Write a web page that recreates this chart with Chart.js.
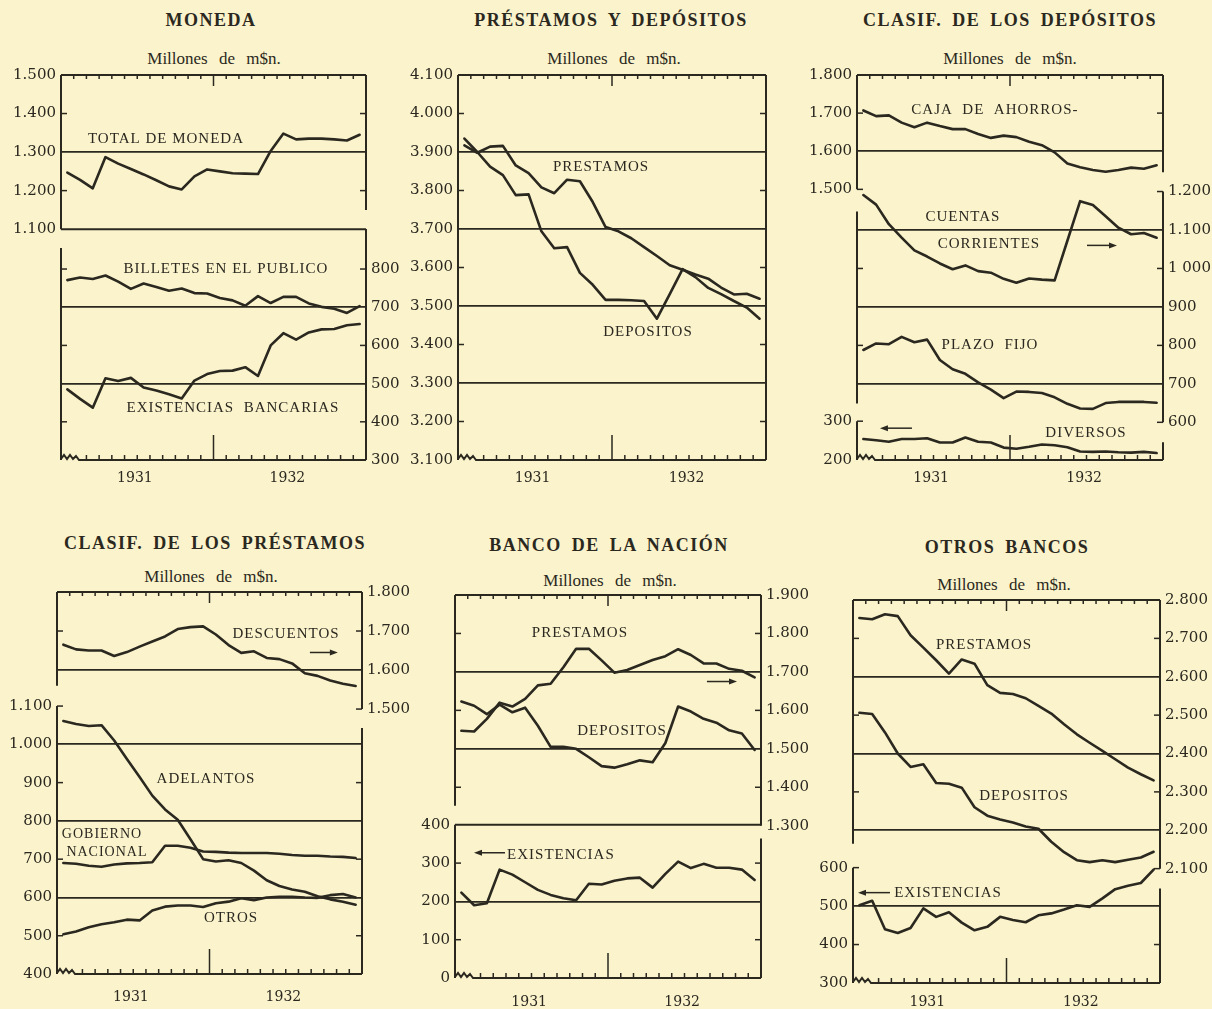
<!DOCTYPE html>
<html lang="es">
<head>
<meta charset="utf-8">
<title>Moneda, préstamos y depósitos 1931-1932</title>
<script src="https://cdn.jsdelivr.net/npm/chart.js@4.4.1/dist/chart.umd.min.js"></script>
<style>
  html, body { margin: 0; padding: 0; }
  body { width: 1212px; height: 1009px; background: #faf3cc; position: relative; overflow: hidden; }
  .title, .sub { position: absolute; transform: translate(-50%, -50%); white-space: nowrap; color: #2b2820; }
  .title { font: bold 18px "Liberation Serif", serif; letter-spacing: 1.5px; word-spacing: 4px; }
  .sub { font: 17px "Liberation Serif", serif; word-spacing: 7px; }
  canvas { position: absolute; }
</style>
</head>
<body>
<div class="title" style="left:211px;top:20px">MONEDA</div>
<div class="title" style="left:611px;top:20px">PRÉSTAMOS Y DEPÓSITOS</div>
<div class="title" style="left:1010px;top:20px">CLASIF. DE LOS DEPÓSITOS</div>
<div class="title" style="left:215px;top:543px">CLASIF. DE LOS PRÉSTAMOS</div>
<div class="title" style="left:609px;top:545px">BANCO DE LA NACIÓN</div>
<div class="title" style="left:1007px;top:547px">OTROS BANCOS</div>
<div class="sub" style="left:214px;top:59px">Millones de m$n.</div>
<div class="sub" style="left:614px;top:59px">Millones de m$n.</div>
<div class="sub" style="left:1010px;top:59px">Millones de m$n.</div>
<div class="sub" style="left:211px;top:577px">Millones de m$n.</div>
<div class="sub" style="left:610px;top:581px">Millones de m$n.</div>
<div class="sub" style="left:1004px;top:585px">Millones de m$n.</div>

<canvas id="moneda"></canvas>
<canvas id="pyd"></canvas>
<canvas id="clasdep"></canvas>
<canvas id="claspre"></canvas>
<canvas id="nacion"></canvas>
<canvas id="otros"></canvas>

<script>
const INK = '#2b2820';

// months, Jan 1931 .. Dec 1932
const MONTHS = ['Ene 1931', 'Feb 1931', 'Mar 1931', 'Abr 1931', 'May 1931', 'Jun 1931',
  'Jul 1931', 'Ago 1931', 'Sep 1931', 'Oct 1931', 'Nov 1931', 'Dic 1931',
  'Ene 1932', 'Feb 1932', 'Mar 1932', 'Abr 1932', 'May 1932', 'Jun 1932',
  'Jul 1932', 'Ago 1932', 'Sep 1932', 'Oct 1932', 'Nov 1932', 'Dic 1932'];
const YEAR_LABELS = ['1931', '1932'];

// Moneda
const TOTAL_MONEDA = [1247, 1228, 1206, 1287, 1270, 1256, 1242, 1227, 1211, 1203, 1237, 1255,
  1250, 1245, 1244, 1243, 1303, 1348, 1333, 1335, 1335, 1333, 1330, 1345];
const BILLETES_PUBLICO = [771, 778, 774, 783, 767, 748, 762, 753, 743, 749, 737, 736,
  724, 718, 704, 729, 711, 727, 727, 710, 701, 696, 685, 703];
const EXISTENCIAS_BANCARIAS = [485, 460, 437, 514, 507, 515, 490, 482, 472, 461, 508, 525,
  533, 534, 543, 520, 600, 632, 615, 634, 642, 643, 653, 656];

// Prestamos y depositos
const PRESTAMOS_TOTAL = [3917, 3898, 3914, 3916, 3865, 3845, 3808, 3793, 3828, 3824, 3770, 3705,
  3694, 3676, 3653, 3630, 3606, 3594, 3582, 3571, 3548, 3530, 3532, 3519];
const DEPOSITOS_TOTAL = [3935, 3900, 3862, 3840, 3788, 3790, 3694, 3650, 3653, 3586, 3555, 3516,
  3516, 3515, 3513, 3467, 3531, 3596, 3575, 3547, 3531, 3513, 3496, 3467];

// Clasificacion de los depositos
const CAJA_AHORROS = [1707, 1692, 1694, 1675, 1663, 1675, 1666, 1658, 1658, 1645, 1635, 1641,
  1637, 1625, 1616, 1597, 1568, 1558, 1551, 1546, 1551, 1557, 1554, 1563];
const CUENTAS_CORRIENTES = [1191, 1166, 1115, 1080, 1047, 1031, 1013, 998, 1008, 993, 989, 973,
  963, 974, 971, 969, 1072, 1175, 1165, 1136, 1106, 1089, 1092, 1080];
const PLAZO_FIJO = [788, 805, 803, 822, 808, 815, 762, 738, 726, 704, 685, 663,
  680, 679, 676, 665, 648, 636, 635, 650, 653, 653, 653, 651];
const DIVERSOS = [254, 251, 247, 254, 254, 256, 245, 245, 258, 247, 245, 232,
  229, 234, 240, 238, 233, 222, 221, 222, 220, 219, 221, 218];

// Clasificacion de los prestamos
const DESCUENTOS = [1665, 1653, 1650, 1650, 1636, 1646, 1660, 1673, 1686, 1705, 1710, 1712,
  1691, 1664, 1644, 1648, 1631, 1628, 1617, 1592, 1585, 1573, 1565, 1559];
const ADELANTOS = [1061, 1053, 1048, 1050, 1010, 962, 915, 866, 830, 803, 752, 700,
  694, 697, 690, 670, 645, 630, 621, 615, 603, 595, 589, 581];
const GOBIERNO_NACIONAL = [690, 688, 683, 680, 686, 689, 690, 692, 735, 735, 730, 720,
  719, 717, 716, 716, 716, 714, 711, 709, 709, 707, 706, 703];
const OTROS_PRESTAMOS = [504, 511, 522, 530, 535, 542, 540, 566, 576, 579, 579, 575,
  585, 589, 598, 593, 600, 602, 602, 600, 599, 606, 609, 600];

// Banco de la Nacion
const NACION_PRESTAMOS = [1547, 1545, 1578, 1620, 1610, 1630, 1665, 1669, 1712, 1760, 1760, 1730,
  1698, 1705, 1718, 1731, 1741, 1759, 1744, 1722, 1722, 1708, 1703, 1686];
const NACION_DEPOSITOS = [1623, 1612, 1590, 1615, 1595, 1607, 1560, 1505, 1505, 1500, 1478, 1455,
  1451, 1460, 1470, 1465, 1515, 1610, 1597, 1578, 1568, 1548, 1540, 1497];
const NACION_EXISTENCIAS = [223, 190, 195, 283, 270, 250, 230, 217, 208, 203, 246, 244,
  254, 260, 262, 236, 272, 304, 287, 298, 288, 288, 283, 256];

// Otros bancos
const OB_PRESTAMOS = [2753, 2750, 2763, 2758, 2708, 2676, 2643, 2608, 2645, 2634, 2578, 2558,
  2555, 2544, 2524, 2504, 2476, 2450, 2428, 2407, 2385, 2363, 2346, 2330];
const OB_DEPOSITOS = [2506, 2503, 2455, 2400, 2365, 2372, 2323, 2321, 2311, 2260, 2238, 2228,
  2220, 2210, 2204, 2170, 2143, 2122, 2117, 2122, 2117, 2123, 2129, 2144];
const OB_EXISTENCIAS = [502, 514, 440, 430, 443, 494, 472, 484, 457, 437, 446, 472,
  464, 458, 476, 481, 491, 502, 498, 520, 544, 553, 560, 595];

// tick labels
const MONEDA_TICKS_L = ['1.100', '1.200', '1.300', '1.400', '1.500'];
const MONEDA_TICKS_R = ['300', '400', '500', '600', '700', '800'];
const PYD_TICKS = ['3.100', '3.200', '3.300', '3.400', '3.500', '3.600', '3.700', '3.800', '3.900', '4.000', '4.100'];
const CLASDEP_TICKS_L = ['1.500', '1.600', '1.700', '1.800'];
const CLASDEP_TICKS_R = ['600', '700', '800', '900', '1 000', '1.100', '1.200'];
const CLASDEP_TICKS_B = ['200', '300'];
const CLASPRE_TICKS_R = ['1.500', '1.600', '1.700', '1.800'];
const CLASPRE_TICKS_L = ['400', '500', '600', '700', '800', '900', '1.000', '1.100'];
const NACION_TICKS_R = ['1.300', '1.400', '1.500', '1.600', '1.700', '1.800', '1.900'];
const NACION_TICKS_L = ['0', '100', '200', '300', '400'];
const OB_TICKS_R = ['2.100', '2.200', '2.300', '2.400', '2.500', '2.600', '2.700', '2.800'];
const OB_TICKS_L = ['300', '400', '500', '600'];

const toVal = s => Number(s.replace(/[.\s]/g, ''));

// layout: plot area [left, right, top, bottom] in page pixels
const LW = 58, RW = 52, PT = 12, XH = 36;

const PANELS = [
  { id: 'moneda', area: [61, 366, 73, 460], xPad: 2,
    axes: {
      yL: { pos: 'left', min: 501, max: 1500, ticks: MONEDA_TICKS_L, grid: [1300] },
      yR: { pos: 'right', min: 300, max: 1308, ticks: MONEDA_TICKS_R, grid: [700, 500] } },
    series: [[TOTAL_MONEDA, 'yL'], [BILLETES_PUBLICO, 'yR'], [EXISTENCIAS_BANCARIAS, 'yR']],
    frames: [['h', 'yL', 1500, 0, 24], ['v', 'yL', 0, 1500, 1100], ['v', 'yL', 24, 1500, 1150],
      ['h', 'yL', 1100, 0, 24], ['v', 'yR', 0, 855, 300], ['v', 'yR', 24, 905, 300]],
    marks: [['yL', 1400, 'LR'], ['yL', 1200, 'LR'], ['yR', 800, 'LR'], ['yR', 600, 'LR'], ['yR', 400, 'LR']],
    labels: [['TOTAL DE MONEDA', 'yL', 8.26, 1335, 15], ['BILLETES EN EL PUBLICO', 'yR', 12.98, 800, 15],
      ['EXISTENCIAS  BANCARIAS', 'yR', 13.53, 435, 15]],
    arrows: [], extraTicks: [] },
  { id: 'pyd', area: [458, 766, 73, 460], xPad: 2,
    axes: { y: { pos: 'left', min: 3100, max: 4100, ticks: PYD_TICKS, grid: [3900, 3700, 3500, 3300] } },
    series: [[PRESTAMOS_TOTAL, 'y'], [DEPOSITOS_TOTAL, 'y']],
    frames: [['h', 'y', 4100, 0, 24], ['v', 'y', 0, 4100, 3100], ['v', 'y', 24, 4100, 3100]],
    marks: [['y', 4000, 'LR'], ['y', 3800, 'LR'], ['y', 3600, 'LR'], ['y', 3400, 'LR'], ['y', 3200, 'LR']],
    labels: [['PRESTAMOS', 'y', 11.15, 3860, 15], ['DEPOSITOS', 'y', 14.8, 3433, 15]],
    arrows: [], extraTicks: [] },
  { id: 'clasdep', area: [857, 1163, 73, 460], xPad: 2,
    axes: {
      yL: { pos: 'left', min: 790, max: 1800, ticks: CLASDEP_TICKS_L, grid: [1600] },
      yR: { pos: 'right', min: 502, max: 1503, ticks: CLASDEP_TICKS_R, grid: [1100, 900, 700] },
      yB: { pos: 'left', min: 200, max: 1192, ticks: CLASDEP_TICKS_B, grid: [], hidden: true } },
    series: [[CAJA_AHORROS, 'yL'], [CUENTAS_CORRIENTES, 'yR'], [PLAZO_FIJO, 'yR'], [DIVERSOS, 'yB']],
    frames: [['h', 'yL', 1800, 0, 24], ['v', 'yL', 0, 1800, 1500], ['v', 'yR', 0, 1148, 649],
      ['v', 'yB', 0, 300, 200], ['v', 'yR', 24, 1503, 1250], ['v', 'yR', 24, 1200, 600], ['v', 'yB', 24, 246, 200]],
    marks: [['yL', 1700, 'LR'], ['yL', 1500, 'L'], ['yR', 1200, 'R'], ['yR', 1000, 'LR'], ['yR', 800, 'LR'],
      ['yR', 600, 'R'], ['yB', 300, 'L']],
    labels: [['CAJA  DE  AHORROS-', 'yL', 10.82, 1709, 15], ['CUENTAS', 'yR', 8.31, 1133, 15],
      ['CORRIENTES', 'yR', 10.35, 1063, 15], ['PLAZO  FIJO', 'yR', 10.43, 802, 15], ['DIVERSOS', 'yB', 17.96, 269, 15]],
    arrows: [['yR', 1060, 18.04, 20.39], ['yB', 282, 4.31, 1.8]],
    extraTicks: [['yB', '300'], ['yB', '200']] },
  { id: 'claspre', area: [57, 362, 590, 974], xPad: 7,
    axes: {
      yR: { pos: 'right', min: 821, max: 1800, ticks: CLASPRE_TICKS_R, grid: [1600] },
      yL: { pos: 'left', min: 400, max: 1398, ticks: CLASPRE_TICKS_L, grid: [1000, 800, 600] } },
    series: [[DESCUENTOS, 'yR'], [ADELANTOS, 'yL'], [GOBIERNO_NACIONAL, 'yL'], [OTROS_PRESTAMOS, 'yL']],
    frames: [['h', 'yR', 1800, 0, 24], ['v', 'yR', 0, 1800, 1560], ['v', 'yR', 24, 1800, 1500],
      ['v', 'yL', 0, 1100, 400], ['v', 'yL', 24, 1043, 400]],
    marks: [['yR', 1700, 'LR'], ['yR', 1500, 'R'], ['yL', 1100, 'L'], ['yL', 900, 'LR'], ['yL', 700, 'LR'], ['yL', 500, 'LR']],
    labels: [['DESCUENTOS', 'yR', 18.02, 1693, 15], ['ADELANTOS', 'yL', 11.72, 908, 15],
      ['GOBIERNO', 'yL', 3.54, 766, 14], ['NACIONAL', 'yL', 3.93, 719, 14], ['OTROS', 'yL', 13.69, 545, 15]],
    arrows: [['yR', 1645, 19.9, 22.1]], extraTicks: [] },
  { id: 'nacion', area: [455, 761, 593, 978], xPad: 8,
    axes: {
      yR: { pos: 'right', min: 904, max: 1900, ticks: NACION_TICKS_R, grid: [1700, 1500] },
      yL: { pos: 'left', min: 0, max: 1000, ticks: NACION_TICKS_L, grid: [200] } },
    series: [[NACION_PRESTAMOS, 'yR'], [NACION_DEPOSITOS, 'yR'], [NACION_EXISTENCIAS, 'yL']],
    frames: [['h', 'yR', 1900, 0, 24], ['v', 'yR', 0, 1900, 1352], ['v', 'yR', 24, 1900, 1300],
      ['h', 'yL', 400, 0, 24], ['v', 'yL', 0, 400, 0], ['v', 'yL', 24, 364, 0]],
    marks: [['yR', 1800, 'LR'], ['yR', 1600, 'LR'], ['yR', 1400, 'LR'], ['yL', 300, 'LR'], ['yL', 100, 'LR']],
    labels: [['PRESTAMOS', 'yR', 9.8, 1802, 15], ['DEPOSITOS', 'yR', 13.1, 1546, 15], ['EXISTENCIAS', 'yL', 8.31, 322, 15]],
    arrows: [['yR', 1675, 19.76, 22.12], ['yL', 327, 3.92, 1.49]], extraTicks: [] },
  { id: 'otros', area: [853, 1160, 598, 983], xPad: 3,
    axes: {
      yR: { pos: 'right', min: 1802, max: 2800, ticks: OB_TICKS_R, grid: [2600, 2400, 2200] },
      yL: { pos: 'left', min: 300, max: 1296, ticks: OB_TICKS_L, grid: [500] } },
    series: [[OB_PRESTAMOS, 'yR'], [OB_DEPOSITOS, 'yR'], [OB_EXISTENCIAS, 'yL']],
    frames: [['h', 'yR', 2800, 0, 24], ['v', 'yR', 0, 2800, 2165], ['v', 'yR', 24, 2800, 2100],
      ['v', 'yL', 0, 600, 300], ['v', 'yL', 24, 546, 300]],
    marks: [['yR', 2700, 'LR'], ['yR', 2500, 'LR'], ['yR', 2300, 'LR'], ['yR', 2100, 'R'], ['yL', 600, 'L'], ['yL', 400, 'LR']],
    labels: [['PRESTAMOS', 'yR', 10.24, 2683, 15], ['DEPOSITOS', 'yR', 13.37, 2289, 15], ['EXISTENCIAS', 'yL', 7.43, 535, 15]],
    arrows: [['yL', 535, 2.89, 0.39]], extraTicks: [] }
];

// frames, month ticks, axis break, series names and arrows
function decorPlugin(p) {
  return {
    id: 'decor',
    afterDraw(chart) {
      const { ctx, chartArea: a, scales: sc } = chart;
      const mx = m => a.left + m * (a.right - a.left) / 24;
      const py = (k, v) => sc[k].getPixelForValue(v);
      const seg = (x0, y0, x1, y1) => { ctx.beginPath(); ctx.moveTo(x0, y0); ctx.lineTo(x1, y1); ctx.stroke(); };
      ctx.save();
      ctx.strokeStyle = INK;
      ctx.fillStyle = INK;
      ctx.lineWidth = 2;
      for (const f of p.frames) {
        if (f[0] === 'v') seg(mx(f[2]), py(f[1], f[3]), mx(f[2]), py(f[1], f[4]));
        else seg(mx(f[3]), py(f[1], f[2]), mx(f[4]), py(f[1], f[2]));
      }
      // bottom axis with the break mark at its start
      const b = a.bottom;
      ctx.beginPath();
      ctx.moveTo(a.left, b - 1);
      [[3, -5], [6, -1], [9, -5], [12, -1], [15, -4], [18, 0]].forEach(([dx, dy]) => ctx.lineTo(a.left + dx, b + dy));
      ctx.lineTo(a.right, b);
      ctx.stroke();
      ctx.lineWidth = 1.5;
      for (let k = 1; k < 24; k++) {
        const x = mx(k);
        seg(x, a.top, x, a.top + (k === 12 ? 11 : 4));
        if (k >= 2) seg(x, b, x, b - (k === 12 ? 25 : 5));
      }
      for (const [k, v, side] of p.marks) {
        const y = py(k, v);
        if (side.includes('L')) seg(a.left, y, a.left + 6, y);
        if (side.includes('R')) seg(a.right - 6, y, a.right, y);
      }
      for (const [k, v, m0, m1] of p.arrows) {
        const x0 = mx(m0), x1 = mx(m1), y = py(k, v), d = Math.sign(x1 - x0);
        seg(x0, y, x1 - d * 4, y);
        ctx.beginPath();
        ctx.moveTo(x1, y);
        ctx.lineTo(x1 - d * 8, y - 3);
        ctx.lineTo(x1 - d * 8, y + 3);
        ctx.closePath();
        ctx.fill();
      }
      ctx.textAlign = 'center';
      ctx.textBaseline = 'middle';
      for (const [text, k, m, v, size] of p.labels) {
        ctx.font = size + 'px "Liberation Serif"';
        ctx.letterSpacing = '1px';
        ctx.fillText(text, mx(m), py(k, v));
      }
      ctx.letterSpacing = '0px';
      ctx.textAlign = 'right';
      ctx.font = '15px "DejaVu Serif"';
      for (const [k, lab] of p.extraTicks) {
        ctx.fillText(lab, a.left - 5, py(k, toVal(lab)));
      }
      ctx.restore();
    }
  };
}

function makeChart(p) {
  const [L, R, T, B] = p.area;
  const hasRight = Object.values(p.axes).some(ax => ax.pos === 'right' && !ax.hidden);
  const cv = document.getElementById(p.id);
  const left = L - LW, top = T - PT;
  const width = R + RW - left, height = B + XH - top;
  cv.width = width; cv.height = height;
  Object.assign(cv.style, { left: left + 'px', top: top + 'px', width: width + 'px', height: height + 'px' });

  const scales = {
    x: {
      type: 'category', offset: true,
      grid: { display: false }, border: { display: false },
      afterFit: s => { s.height = XH; },
      ticks: {
        autoSkip: false, maxRotation: 0, minRotation: 0, padding: p.xPad, labelOffset: 4, color: INK,
        font: { family: 'DejaVu Serif', size: 14 },
        callback: (v, i) => i === 5 ? YEAR_LABELS[0] : (i === 17 ? YEAR_LABELS[1] : '')
      }
    }
  };
  for (const [key, ax] of Object.entries(p.axes)) {
    const vals = ax.ticks.map(toVal);
    scales[key] = {
      type: 'linear', position: ax.pos, min: ax.min, max: ax.max, display: !ax.hidden,
      afterBuildTicks: s => { s.ticks = vals.map(v => ({ value: v })); },
      border: { display: false },
      grid: {
        drawTicks: false, lineWidth: 1.7,
        color: c => (c.tick && ax.grid.includes(c.tick.value)) ? INK : 'rgba(0,0,0,0)'
      },
      ticks: {
        padding: 5, color: INK, font: { family: 'DejaVu Serif', size: 15 },
        callback: v => ax.ticks[vals.indexOf(v)]
      }
    };
    if (!ax.hidden) scales[key].afterFit = s => { s.width = ax.pos === 'left' ? LW : RW; };
  }

  return new Chart(cv.getContext('2d'), {
    type: 'line',
    data: {
      labels: MONTHS,
      datasets: p.series.map(([data, axis]) => ({
        data, yAxisID: axis, borderColor: INK, borderWidth: 2.6, pointRadius: 0,
        fill: false, tension: 0, borderJoinStyle: 'round', borderCapStyle: 'round'
      }))
    },
    options: {
      responsive: false, animation: false, events: [],
      layout: { padding: { top: PT, left: 0, bottom: 0, right: hasRight ? 0 : RW } },
      scales,
      plugins: { legend: { display: false }, tooltip: { enabled: false } }
    },
    plugins: [decorPlugin(p)]
  });
}

PANELS.forEach(makeChart);
</script>
</body>
</html>
